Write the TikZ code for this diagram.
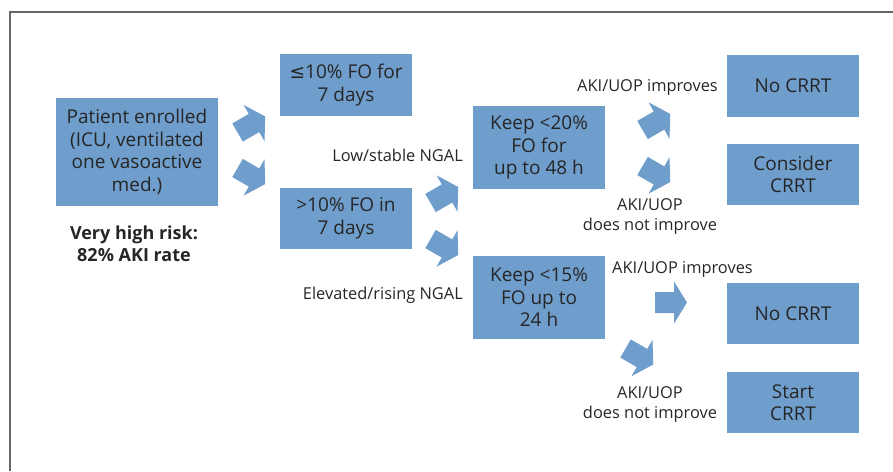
\documentclass[tikz,border=0pt]{standalone}
\usepackage{xcolor}
\usepackage{tikz}
\usepackage{fontspec}
\setmainfont{Open Sans}
\newfontfamily\symfont{DejaVu Sans}
\usetikzlibrary{positioning}

\definecolor{boxblue}{RGB}{111,157,204}
\definecolor{inktext}{RGB}{38,38,38}
\definecolor{framegray}{RGB}{102,102,102}

\tikzset{
  stepbox/.style = {fill=boxblue, text=inktext, align=center, inner sep=0pt,
    minimum width=132pt, minimum height=61pt,
    font=\fontsize{19}{22.5}\selectfont},
  note/.style = {text=inktext, align=center, inner sep=0pt,
    font=\fontsize{16.4}{20}\selectfont},
  blockarrow/.pic = {
    \fill[boxblue] (-19,-10.5) -- (0,-10.5) -- (0,-21) -- (13,0)
      -- (0,21) -- (0,10.5) -- (-19,10.5) -- cycle;
  },
}

\begin{document}
\begin{tikzpicture}[x=1pt, y=1pt]
  \useasboundingbox (0,0) rectangle (893,-471);

  % frame
  \draw[framegray, line width=1.3pt] (10,-471) -- (10,-12) -- (893,-12);

  % boxes
  \node[stepbox, minimum width=162pt, minimum height=108pt] (enrol) at (137,-152)
    {Patient enrolled\\(ICU, ventilated\\one vasoactive\\med.)};
  \node[stepbox, minimum height=62pt] (folow) at (346,-85)
    {{\symfont ≤}10\% FO for\\7 days};
  \node[stepbox] (fohigh) at (346,-218.5) {>10\% FO in\\7 days};
  \node[stepbox, minimum height=83pt] (keepA) at (539,-147.5)
    {Keep <20\%\\FO for\\up to 48 h};
  \node[stepbox, minimum height=83pt] (keepB) at (539,-297.5)
    {Keep <15\%\\FO up to\\24 h};
  \node[stepbox, minimum height=62pt] (nocrrtA) at (793,-86) {No CRRT};
  \node[stepbox] (consider) at (793,-174.5) {Consider\\CRRT};
  \node[stepbox] (nocrrtB) at (793,-313.5) {No CRRT};
  \node[stepbox] (start) at (793,-402.5) {Start\\CRRT};

  % labels
  \node[note, font=\fontsize{18}{22}\bfseries] (risk) at (134,-244)
    {Very high risk:\\82\% AKI rate};
  \node[note, anchor=east] (lowngal) at (463,-155) {Low/stable NGAL};
  \node[note, anchor=east] (highngal) at (463,-295) {Elevated/rising NGAL};
  \node[note] (betterA) at (647.5,-87) {AKI/UOP improves};
  \node[note] (worseA) at (650,-217) {AKI/UOP\\does not improve};
  \node[note] (betterB) at (682.5,-269) {AKI/UOP improves};
  \node[note] (worseB) at (650,-405) {AKI/UOP\\does not improve};

  % block arrows
  \pic[rotate=30] at (254,-123) {blockarrow};
  \pic[rotate=-30] at (254,-177.5) {blockarrow};
  \pic[rotate=30] at (447,-193.5) {blockarrow};
  \pic[rotate=-30] at (447,-248.5) {blockarrow};
  \pic[rotate=30] at (659,-120.5) {blockarrow};
  \pic[rotate=-30] at (659,-175.5) {blockarrow};
  \pic at (674,-302.5) {blockarrow};
  \pic[rotate=-30] at (642,-358) {blockarrow};
\end{tikzpicture}
\end{document}
